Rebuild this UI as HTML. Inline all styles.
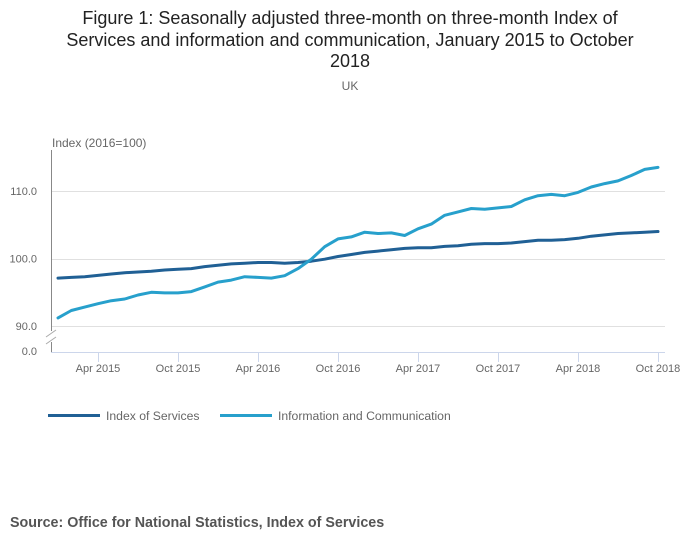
<!DOCTYPE html>
<html><head><meta charset="utf-8"><style>
body{margin:0;background:#fff;font-family:"Liberation Sans",sans-serif;}
svg text{font-family:"Liberation Sans",sans-serif;}
</style></head><body>
<svg id="chart" width="700" height="549" xmlns="http://www.w3.org/2000/svg">
<text x="350" y="24" font-size="18" fill="#222" text-anchor="middle">Figure 1: Seasonally adjusted three-month on three-month Index of</text>
<text x="350" y="46" font-size="18" fill="#222" text-anchor="middle">Services and information and communication, January 2015 to October</text>
<text x="350" y="67" font-size="18" fill="#222" text-anchor="middle">2018</text>
<text x="350" y="90" font-size="12" fill="#666" text-anchor="middle">UK</text>
<text x="52" y="147" font-size="12" fill="#666">Index (2016=100)</text>
<g id="grid"></g>
<line x1="51.5" y1="150" x2="51.5" y2="352" stroke="#888"/>
<line x1="51" y1="352.5" x2="665" y2="352.5" stroke="#ccd6eb"/>
<rect x="46" y="331" width="12" height="11" fill="#fff"/>
<line x1="46" y1="337" x2="56" y2="330" stroke="#aaa"/>
<line x1="46" y1="344" x2="56" y2="337" stroke="#aaa"/>
<g id="xaxis"></g>
<g id="series"></g>
<line x1="48" y1="415.5" x2="100" y2="415.5" stroke="#206095" stroke-width="3"/>
<text x="106" y="420" font-size="12.2" fill="#666">Index of Services</text>
<line x1="220" y1="415.5" x2="272" y2="415.5" stroke="#27a0cc" stroke-width="3"/>
<text x="278" y="420" font-size="12.2" fill="#666">Information and Communication</text>
<text x="10" y="527" font-size="14.3" font-weight="bold" fill="#555">Source: Office for National Statistics, Index of Services</text>
</svg>
<script>
const yTicks=[90,100,110];
const yTickLabels=["90.0","100.0","110.0"];
const xTickMonths=[3,9,15,21,27,33,39,45];
const xTickLabels=["Apr 2015","Oct 2015","Apr 2016","Oct 2016","Apr 2017","Oct 2017","Apr 2018","Oct 2018"];
const indexOfServices=[97.1,97.2,97.3,97.5,97.7,97.9,98.0,98.1,98.3,98.4,98.5,98.8,99.0,99.2,99.3,99.4,99.4,99.3,99.4,99.6,99.9,100.3,100.6,100.9,101.1,101.3,101.5,101.6,101.6,101.8,101.9,102.1,102.2,102.2,102.3,102.5,102.7,102.7,102.8,103.0,103.3,103.5,103.7,103.8,103.9,104.0];
const infoComm=[91.2,92.3,92.8,93.3,93.75,94.0,94.6,95.0,94.9,94.9,95.1,95.8,96.5,96.8,97.3,97.2,97.1,97.45,98.5,99.9,101.75,102.9,103.2,103.9,103.7,103.8,103.4,104.4,105.1,106.4,106.9,107.4,107.3,107.5,107.7,108.7,109.3,109.5,109.3,109.8,110.6,111.1,111.5,112.3,113.2,113.5];
const NS="http://www.w3.org/2000/svg";
function x(m){return 58+m*13.333;}
function y(v){return 258.5-(v-100)*6.75;}
const grid=document.getElementById('grid');
yTicks.forEach((t,i)=>{
  const l=document.createElementNS(NS,'line');
  l.setAttribute('x1',51);l.setAttribute('x2',665);
  l.setAttribute('y1',Math.round(y(t))+0.5);l.setAttribute('y2',Math.round(y(t))+0.5);
  l.setAttribute('stroke','#e0e0e0');
  
  
  grid.appendChild(l);
  const tx=document.createElementNS(NS,'text');
  tx.setAttribute('x',37);tx.setAttribute('y',y(t)+4);
  tx.setAttribute('text-anchor','end');tx.setAttribute('font-size','11');tx.setAttribute('fill','#666');
  tx.textContent=yTickLabels[i];
  
  
  grid.appendChild(tx);
});
const z=document.createElementNS(NS,'text');
z.setAttribute('x',37);z.setAttribute('y',355);z.setAttribute('text-anchor','end');
z.setAttribute('font-size','11');z.setAttribute('fill','#666');z.textContent='0.0';


grid.appendChild(z);
const xa=document.getElementById('xaxis');
xTickMonths.forEach((m,i)=>{
  const l=document.createElementNS(NS,'line');
  l.setAttribute('x1',Math.round(x(m))+0.5);l.setAttribute('x2',Math.round(x(m))+0.5);
  l.setAttribute('y1',352);l.setAttribute('y2',362);l.setAttribute('stroke','#ccd6eb');
  
  
  xa.appendChild(l);
  const tx=document.createElementNS(NS,'text');
  tx.setAttribute('x',x(m));tx.setAttribute('y',372);tx.setAttribute('text-anchor','middle');
  tx.setAttribute('font-size','11');tx.setAttribute('fill','#666');
  tx.textContent=xTickLabels[i];
  
  
  xa.appendChild(tx);
});
const sg=document.getElementById('series');
function line(vals,color,name){
  const p=document.createElementNS(NS,'path');
  p.setAttribute('d',vals.map((v,i)=>(i?'L':'M')+x(i).toFixed(1)+' '+y(v).toFixed(1)).join(' '));
  p.setAttribute('fill','none');p.setAttribute('stroke',color);p.setAttribute('stroke-width','3');
  p.setAttribute('stroke-linejoin','round');p.setAttribute('stroke-linecap','round');
  
  
  sg.appendChild(p);
}
line(indexOfServices,'#206095','line-index-of-services');
line(infoComm,'#27a0cc','line-information-and-communication');
</script>
</body></html>
